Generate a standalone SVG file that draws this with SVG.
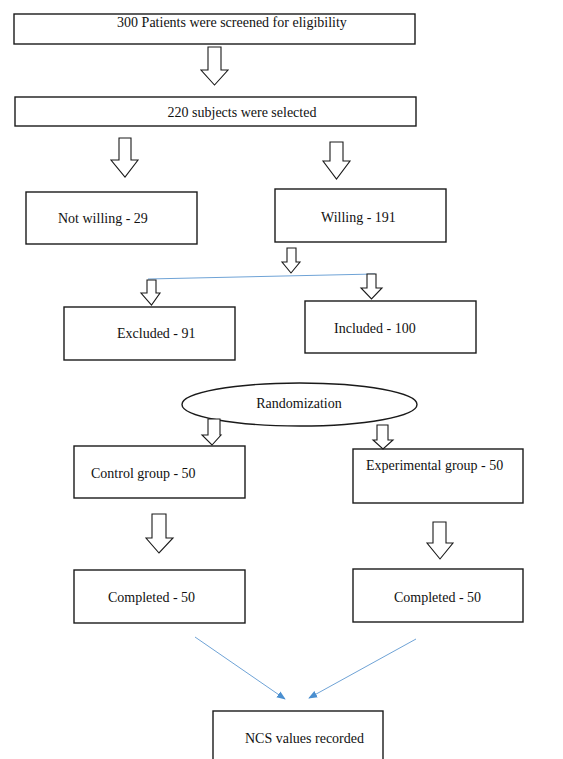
<svg xmlns="http://www.w3.org/2000/svg" width="563" height="759" viewBox="0 0 563 759">
<defs>
<style>
.box{fill:#fff;stroke:#1a1a1a;stroke-width:1.4}
.barrow{fill:#fff;stroke:#1a1a1a;stroke-width:1.1;stroke-linejoin:miter}
.t{font-family:"Liberation Serif","Times New Roman",serif;font-size:14px;fill:#111}
.blue{stroke:#6fa3d6;stroke-width:1;fill:none}
</style>
<marker id="ah" viewBox="0 0 10 10" refX="9" refY="5" markerWidth="9" markerHeight="9" orient="auto" markerUnits="userSpaceOnUse">
<path d="M0,1 L10,5 L0,9 z" fill="#4a8fd0"/>
</marker>
</defs>
<rect width="563" height="759" fill="#fff"/>

<g id="n1"><rect class="box" x="14" y="14" width="401" height="30"/><text class="t" x="232" y="27" text-anchor="middle">300 Patients were screened for eligibility</text></g>
<g id="n2"><rect class="box" x="15" y="97" width="401" height="29"/><text class="t" x="242" y="117" text-anchor="middle">220 subjects were selected</text></g>
<g id="n3"><rect class="box" x="26" y="192" width="171" height="52"/><text class="t" x="58" y="223">Not willing - 29</text></g>
<g id="n4"><rect class="box" x="275" y="189" width="171" height="53"/><text class="t" x="321" y="222">Willing - 191</text></g>
<g id="n5"><rect class="box" x="64" y="307" width="171" height="53"/><text class="t" x="117" y="338">Excluded - 91</text></g>
<g id="n6"><rect class="box" x="305" y="301" width="171" height="52"/><text class="t" x="334" y="333">Included - 100</text></g>
<g id="n7"><ellipse class="box" cx="299.5" cy="404.5" rx="117.5" ry="21.5"/><text class="t" x="299" y="408" text-anchor="middle">Randomization</text></g>
<g id="n8"><rect class="box" x="74" y="446" width="171" height="52"/><text class="t" x="91" y="478">Control group - 50</text></g>
<g id="n9"><rect class="box" x="353" y="449" width="170" height="54"/><text class="t" x="366" y="470">Experimental group - 50</text></g>
<g id="n10"><rect class="box" x="74" y="570" width="171" height="53"/><text class="t" x="108" y="602">Completed - 50</text></g>
<g id="n11"><rect class="box" x="353" y="569" width="170" height="53"/><text class="t" x="394" y="602">Completed - 50</text></g>
<g id="n12"><rect class="box" x="213" y="711" width="170" height="60"/><text class="t" x="245" y="743">NCS values recorded</text></g>

<g id="connectors">
<path class="barrow" d="M208,47 H221 V70 H228 L214.5,85 L201,70 H208 Z"/>
<path class="barrow" d="M119,138 H131 V160 H138 L125,177 L111,160 H119 Z"/>
<path class="barrow" d="M330,142 H343 V161 H350 L336.5,179 L323,161 H330 Z"/>
<path class="barrow" d="M287,248 H296 V262 H300 L291,273 L282,262 H287 Z"/>
<line class="blue" x1="148" y1="279" x2="375" y2="274"/>
<path class="barrow" d="M147,280 H156 V293 H160 L151.5,305 L141,293 H147 Z"/>
<path class="barrow" d="M367,274 H376 V288 H382 L371.5,299 L361,288 H367 Z"/>
<path class="barrow" d="M208,419 H220 V435 H221 L212,445 L202,435 H208 Z"/>
<path class="barrow" d="M377,425 H388 V440 H393 L383,449 L373,440 H377 Z"/>
<path class="barrow" d="M152,514 H166 V538 H173 L159,553 L146,538 H152 Z"/>
<path class="barrow" d="M433,522 H446 V543 H453 L440,559 L427,543 H433 Z"/>
<line class="blue" x1="195" y1="637" x2="285" y2="699" marker-end="url(#ah)"/>
<line class="blue" x1="416" y1="639" x2="309" y2="698" marker-end="url(#ah)"/>
</g>
</svg>
